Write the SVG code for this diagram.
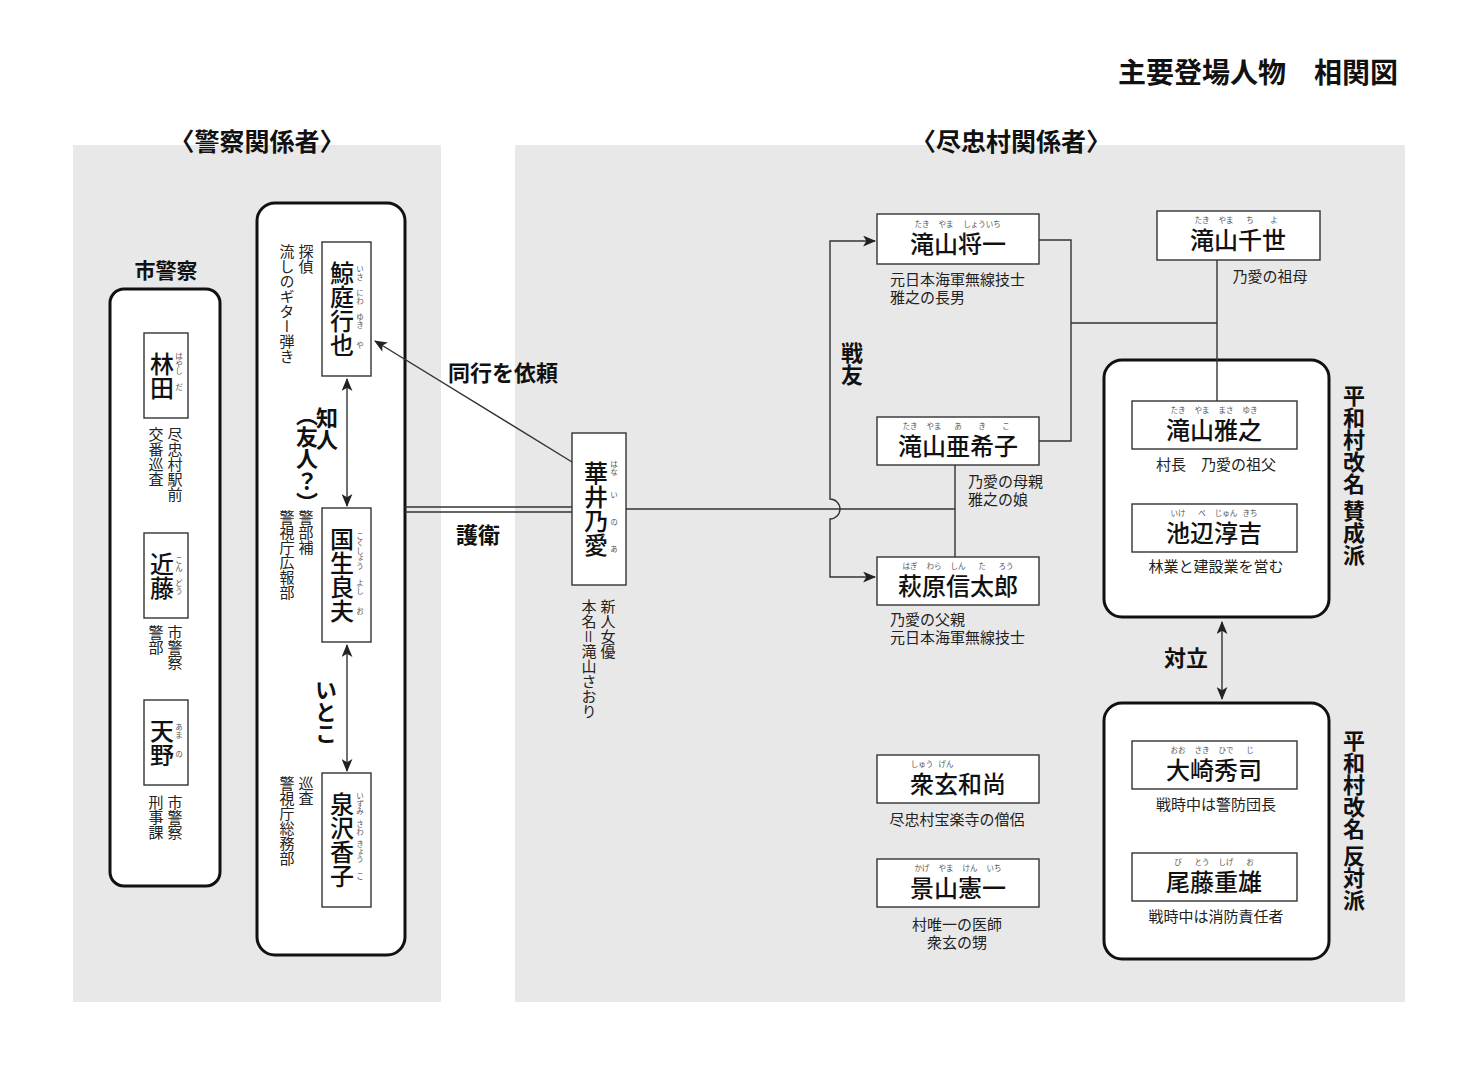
<svg xmlns="http://www.w3.org/2000/svg" width="1460" height="1072" viewBox="0 0 1460 1072">
<style>
text{font-family:"Noto Sans CJK JP","Noto Sans",sans-serif;fill:#111}
.panel{fill:#e8e8e8}
.grp{fill:#fff;stroke:#111;stroke-width:3}
.box{fill:#fff;stroke:#333;stroke-width:1.4}
.nm{font-size:24px;font-weight:500;text-anchor:middle}
.rb{font-size:7.5px;fill:#555;text-anchor:middle}
.ds{font-size:15px;fill:#222}
.dc{font-size:15px;fill:#222;text-anchor:middle}
.lb{font-size:22px;font-weight:700}
.v{writing-mode:vertical-rl}
.ln{stroke:#333;stroke-width:1.4;fill:none}
.ttl{font-size:28px;font-weight:700}
.hd{font-size:25px;font-weight:700;text-anchor:middle}
</style>
<defs>
<marker id="ah" viewBox="0 0 12 10" refX="11" refY="5" markerWidth="13" markerHeight="11" markerUnits="userSpaceOnUse" orient="auto-start-reverse">
<path d="M0,0 L12,5 L0,10 L3,5 z" fill="#222"/>
</marker>
</defs>
<rect width="1460" height="1072" fill="#fff"/>
<rect class="panel" x="73" y="145" width="368" height="857"/>
<rect class="panel" x="515" y="145" width="890" height="857"/>

<text class="ttl" x="1398" y="83" text-anchor="end">主要登場人物　相関図</text>
<text class="hd" x="257" y="151">〈警察関係者〉</text>
<text class="hd" x="1011" y="151">〈尽忠村関係者〉</text>

<g id="group-shikeisatsu">
<text x="166" y="278" font-size="21" font-weight="700" text-anchor="middle">市警察</text>
<rect class="grp" x="110" y="289" width="110" height="597" rx="14"/>
</g>
<g id="group-keishicho">
<rect class="grp" x="257" y="203" width="148" height="752" rx="18"/>
</g>
<g id="group-sansei">
<rect class="grp" x="1104" y="360" width="225" height="257" rx="18"/>
<text class="lb v" x="1354" y="385" font-size="24">平和村改名 賛成派</text>
</g>
<g id="group-hantai">
<rect class="grp" x="1104" y="703" width="225" height="256" rx="18"/>
<text class="lb v" x="1354" y="730" font-size="24">平和村改名 反対派</text>
</g>

<g id="connectors">
<line class="ln" x1="572" y1="462" x2="375" y2="341" marker-end="url(#ah)"/>
<line class="ln" x1="347" y1="379" x2="347" y2="506" marker-start="url(#ah)" marker-end="url(#ah)"/>
<line class="ln" x1="347" y1="645" x2="347" y2="771" marker-start="url(#ah)" marker-end="url(#ah)"/>
<line class="ln" x1="1222" y1="622" x2="1222" y2="699" marker-start="url(#ah)" marker-end="url(#ah)"/>
<path class="ln" d="M875,241 H830 V499 A10,10 0 0 1 830,519 V577 H875" marker-start="url(#ah)" marker-end="url(#ah)"/>
<line class="ln" x1="405" y1="507" x2="572" y2="507"/>
<line class="ln" x1="405" y1="512" x2="572" y2="512"/>
<line class="ln" x1="626" y1="509" x2="955" y2="509"/>
<line class="ln" x1="955" y1="465" x2="955" y2="557"/>
<polyline class="ln" points="1039,240 1071,240 1071,441 1039,441"/>
<line class="ln" x1="1071" y1="323" x2="1217" y2="323"/>
<line class="ln" x1="1217" y1="260" x2="1217" y2="401"/>
<text class="lb" x="503" y="381" text-anchor="middle">同行を依頼</text>
<text class="lb" x="478" y="543" text-anchor="middle">護衛</text>
<text class="lb v" x="852" y="342">戦友</text>
<text class="lb v" x="327" y="407" font-size="20">知人</text>
<text class="lb v" x="307" y="404" font-size="20">（友人？）</text>
<text class="lb v" x="326" y="679">いとこ</text>
<text class="lb" x="1186" y="666" text-anchor="middle">対立</text>
</g>

<g id="hayashida">
<rect class="box" x="144" y="333" width="44" height="85"/>
<text class="nm v" x="162" y="375.5" font-size="23">林田</text>
<text class="rb v" x="179" y="364">はやし</text>
<text class="rb v" x="179" y="387">だ</text>
<text class="ds v" x="175" y="427">尽忠村駅前</text>
<text class="ds v" x="156" y="427">交番巡査</text>
</g>
<g id="kondo">
<rect class="box" x="144" y="533" width="44" height="85"/>
<text class="nm v" x="162" y="575.5" font-size="23">近藤</text>
<text class="rb v" x="179" y="564">こん</text>
<text class="rb v" x="179" y="587">どう</text>
<text class="ds v" x="175" y="625">市警察</text>
<text class="ds v" x="156" y="625">警部</text>
</g>
<g id="amano">
<rect class="box" x="144" y="700" width="44" height="85"/>
<text class="nm v" x="162" y="742.5" font-size="23">天野</text>
<text class="rb v" x="179" y="731">あま</text>
<text class="rb v" x="179" y="754">の</text>
<text class="ds v" x="175" y="795">市警察</text>
<text class="ds v" x="156" y="795">刑事課</text>
</g>

<g id="isaniwa">
<rect class="box" x="322" y="242" width="49" height="134"/>
<text class="nm v" x="342" y="309">鯨庭行也</text>
<text class="rb v" x="360" y="273">いさ</text>
<text class="rb v" x="360" y="297">にわ</text>
<text class="rb v" x="360" y="321">ゆき</text>
<text class="rb v" x="360" y="345">や</text>
<text class="ds v" x="306" y="244">探偵</text>
<text class="ds v" x="287" y="244">流しのギター弾き</text>
</g>
<g id="kokusho">
<rect class="box" x="322" y="508" width="49" height="134"/>
<text class="nm v" x="342" y="575">国生良夫</text>
<text class="rb v" x="360" y="551">こくしょう</text>
<text class="rb v" x="360" y="587">よし</text>
<text class="rb v" x="360" y="611">お</text>
<text class="ds v" x="306" y="510">警部補</text>
<text class="ds v" x="287" y="510">警視庁広報部</text>
</g>
<g id="izumisawa">
<rect class="box" x="322" y="773" width="49" height="134"/>
<text class="nm v" x="342" y="840">泉沢香子</text>
<text class="rb v" x="360" y="804">いずみ</text>
<text class="rb v" x="360" y="828">さわ</text>
<text class="rb v" x="360" y="852">きょう</text>
<text class="rb v" x="360" y="876">こ</text>
<text class="ds v" x="306" y="776">巡査</text>
<text class="ds v" x="287" y="776">警視庁総務部</text>
</g>

<g id="hanai">
<rect class="box" x="572" y="433" width="54" height="152"/>
<text class="nm v" x="596" y="509" font-size="27">華井乃愛</text>
<text class="rb v" x="614" y="468">はな</text>
<text class="rb v" x="614" y="495">い</text>
<text class="rb v" x="614" y="522">の</text>
<text class="rb v" x="614" y="549">あ</text>
<text class="ds v" x="608" y="599">新人女優</text>
<text class="ds v" x="589" y="599">本名＝滝山さおり</text>
</g>

<g id="shoichi">
<rect class="box" x="877" y="214" width="162" height="50"/>
<text class="nm" x="958" y="253">滝山将一</text>
<text class="rb" x="922" y="227">たき</text>
<text class="rb" x="946" y="227">やま</text>
<text class="rb" x="982" y="227">しょういち</text>
<text class="ds" x="890" y="285">元日本海軍無線技士</text>
<text class="ds" x="890" y="303">雅之の長男</text>
</g>
<g id="akiko">
<rect class="box" x="877" y="417" width="162" height="48"/>
<text class="nm" x="958" y="455">滝山亜希子</text>
<text class="rb" x="910" y="429">たき</text>
<text class="rb" x="934" y="429">やま</text>
<text class="rb" x="958" y="429">あ</text>
<text class="rb" x="982" y="429">き</text>
<text class="rb" x="1006" y="429">こ</text>
<text class="ds" x="968" y="487">乃愛の母親</text>
<text class="ds" x="968" y="505">雅之の娘</text>
</g>
<g id="shintaro">
<rect class="box" x="877" y="557" width="162" height="48"/>
<text class="nm" x="958" y="595">萩原信太郎</text>
<text class="rb" x="910" y="569">はぎ</text>
<text class="rb" x="934" y="569">わら</text>
<text class="rb" x="958" y="569">しん</text>
<text class="rb" x="982" y="569">た</text>
<text class="rb" x="1006" y="569">ろう</text>
<text class="ds" x="890" y="625">乃愛の父親</text>
<text class="ds" x="890" y="643">元日本海軍無線技士</text>
</g>
<g id="chise">
<rect class="box" x="1157" y="211" width="163" height="49"/>
<text class="nm" x="1238" y="249">滝山千世</text>
<text class="rb" x="1202" y="223">たき</text>
<text class="rb" x="1226" y="223">やま</text>
<text class="rb" x="1250" y="223">ち</text>
<text class="rb" x="1274" y="223">よ</text>
<text class="dc" x="1270" y="282">乃愛の祖母</text>
</g>
<g id="masayuki">
<rect class="box" x="1132" y="401" width="165" height="48"/>
<text class="nm" x="1214" y="439">滝山雅之</text>
<text class="rb" x="1178" y="413">たき</text>
<text class="rb" x="1202" y="413">やま</text>
<text class="rb" x="1226" y="413">まさ</text>
<text class="rb" x="1250" y="413">ゆき</text>
<text class="dc" x="1216" y="470">村長　乃愛の祖父</text>
</g>
<g id="ikebe">
<rect class="box" x="1132" y="504" width="165" height="48"/>
<text class="nm" x="1214" y="542">池辺淳吉</text>
<text class="rb" x="1178" y="516">いけ</text>
<text class="rb" x="1202" y="516">べ</text>
<text class="rb" x="1226" y="516">じゅん</text>
<text class="rb" x="1250" y="516">きち</text>
<text class="dc" x="1216" y="572">林業と建設業を営む</text>
</g>
<g id="osaki">
<rect class="box" x="1132" y="741" width="165" height="48"/>
<text class="nm" x="1214" y="779">大崎秀司</text>
<text class="rb" x="1178" y="753">おお</text>
<text class="rb" x="1202" y="753">さき</text>
<text class="rb" x="1226" y="753">ひで</text>
<text class="rb" x="1250" y="753">じ</text>
<text class="dc" x="1216" y="810">戦時中は警防団長</text>
</g>
<g id="bito">
<rect class="box" x="1132" y="853" width="165" height="48"/>
<text class="nm" x="1214" y="891">尾藤重雄</text>
<text class="rb" x="1178" y="865">び</text>
<text class="rb" x="1202" y="865">とう</text>
<text class="rb" x="1226" y="865">しげ</text>
<text class="rb" x="1250" y="865">お</text>
<text class="dc" x="1216" y="922">戦時中は消防責任者</text>
</g>
<g id="shugen">
<rect class="box" x="877" y="755" width="162" height="48"/>
<text class="nm" x="958" y="793">衆玄和尚</text>
<text class="rb" x="922" y="767">しゅう</text>
<text class="rb" x="946" y="767">げん</text>
<text class="dc" x="957" y="825">尽忠村宝楽寺の僧侶</text>
</g>
<g id="kageyama">
<rect class="box" x="877" y="859" width="162" height="48"/>
<text class="nm" x="958" y="897">景山憲一</text>
<text class="rb" x="922" y="871">かげ</text>
<text class="rb" x="946" y="871">やま</text>
<text class="rb" x="970" y="871">けん</text>
<text class="rb" x="994" y="871">いち</text>
<text class="dc" x="957" y="930">村唯一の医師</text>
<text class="dc" x="957" y="948">衆玄の甥</text>
</g>
</svg>
